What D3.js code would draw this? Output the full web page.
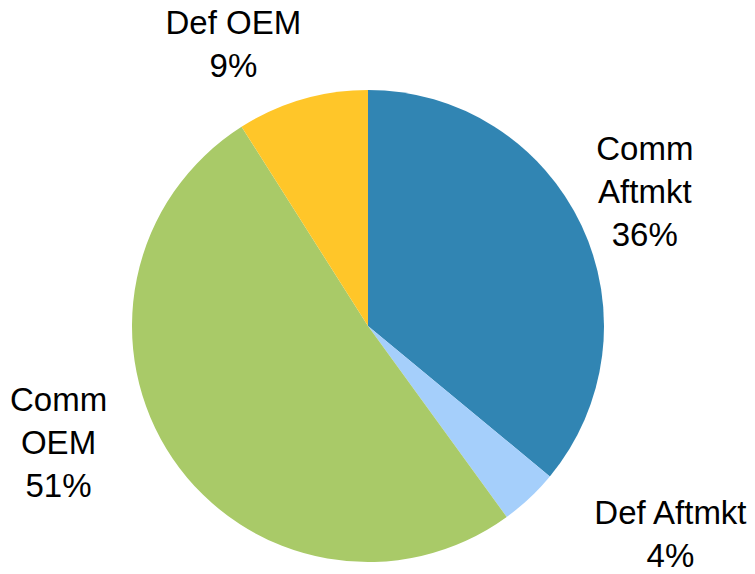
<!DOCTYPE html>
<html><head><meta charset="utf-8">
<script src="https://cdn.jsdelivr.net/npm/d3@7"></script>
<style>html,body{margin:0;padding:0;background:#fff}</style>
</head><body>
<svg id="chart" width="755" height="574"></svg>
<script>
// Data
const categories = ["Comm Aftmkt", "Def Aftmkt", "Comm OEM", "Def OEM"];
const labelLines = [["Comm", "Aftmkt"], ["Def Aftmkt"], ["Comm", "OEM"], ["Def OEM"]];
const shares = [36, 4, 51, 9];
const colors = ["#3185B3", "#A5CFFB", "#A9CA68", "#FFC629"];

// Layout (label block centre, polar relative to pie: angle in degrees clockwise from 12 o'clock, distance in radii)
const labelPolar = [[64, 1.305], [124.5, 1.555], [249.5, 1.40], [334.5, 1.325]];

const W = 755, H = 574;
const cx = 368, cy = 326, R = 236;
const fontSize = 33, lineH = 43;

const svg = d3.select("#chart");
const g = svg.append("g").attr("transform", `translate(${cx},${cy})`);

const pie = d3.pie().sort(null).value(d => d)(shares);
const arc = d3.arc().innerRadius(0).outerRadius(R);

g.selectAll("path").data(pie).join("path")
  .attr("d", arc)
  .attr("fill", (d, i) => colors[i]);

const total = d3.sum(shares);
pie.forEach((d, i) => {
  const lines = labelLines[i].concat([Math.round(shares[i] / total * 100) + "%"]);
  const a = labelPolar[i][0] * Math.PI / 180;
  const dist = labelPolar[i][1] * R;
  const x = Math.sin(a) * dist, y = -Math.cos(a) * dist;
  const capH = 0.716 * fontSize;
  const blockH = capH + (lines.length - 1) * lineH;
  const firstBaseline = y - blockH / 2 + capH;
  const t = g.append("text")
    .attr("text-anchor", "middle")
    .attr("font-family", "Liberation Sans, Arial, sans-serif")
    .attr("font-size", fontSize)
    .attr("fill", "#000");
  lines.forEach((ln, k) => {
    t.append("tspan").attr("x", x).attr("y", firstBaseline + k * lineH).text(ln);
  });
});
</script>
</body></html>
